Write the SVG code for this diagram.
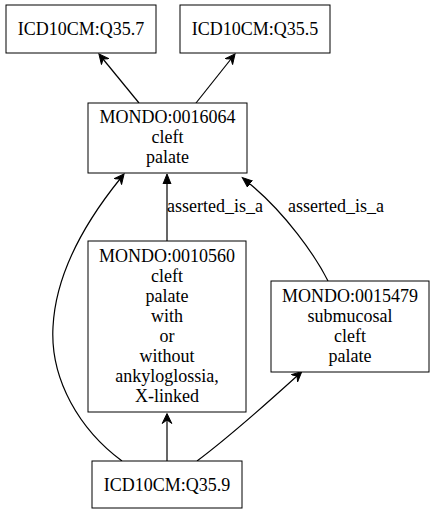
<svg xmlns="http://www.w3.org/2000/svg" width="435" height="515" viewBox="0 0 435 515">
<style>
.box{fill:#fff;stroke:#000;stroke-width:1}
text{font-family:'Liberation Serif','DejaVu Serif',serif;font-size:18px;fill:#000}
.t{text-anchor:middle}
.e{fill:none;stroke:#000;stroke-width:1.2}
</style>
<defs>
<marker id="vee" markerUnits="userSpaceOnUse" markerWidth="12" markerHeight="12" viewBox="0 -6 12 12" refX="3.5" refY="0" orient="auto">
<path d="M0,-4.8 L10,0 L0,4.8 L3.5,0 Z" fill="#000" stroke="#000" stroke-width="1"/>
</marker>
<marker id="tri" markerUnits="userSpaceOnUse" markerWidth="12" markerHeight="12" viewBox="0 -6 12 12" refX="0" refY="0" orient="auto">
<path d="M0,-4 L10,0 L0,4 Z" fill="#000" stroke="#000" stroke-width="1"/>
</marker>
</defs>
<g id="connectors">
<path class="e" d="M139,103 L103,59" marker-end="url(#vee)"/>
<path class="e" d="M196,103 L231,59" marker-end="url(#vee)"/>
<path class="e" d="M167,241 L167,184" marker-end="url(#tri)"/>
<path class="e" d="M328,281 C315,255 285,213 250,184" marker-end="url(#tri)"/>
<path class="e" d="M122,461 C80,430 50,380 53,327 C56,265 95,210 120,179" marker-end="url(#vee)"/>
<path class="e" d="M167,461 L167,420" marker-end="url(#vee)"/>
<path class="e" d="M197,461 C225,440 265,405 297,376" marker-end="url(#vee)"/>
<text x="167" y="212" font-family="Liberation Serif">asserted_is_a</text>
<text x="288" y="212" font-family="Liberation Serif">asserted_is_a</text>
</g>
<g id="n_q357">
<rect class="box" x="6" y="5" width="150" height="48"/>
<text class="t" x="81" y="35">ICD10CM:Q35.7</text>
</g>
<g id="n_q355">
<rect class="box" x="180" y="5" width="150" height="48"/>
<text class="t" x="255" y="35">ICD10CM:Q35.5</text>
</g>
<g id="n_0016064">
<rect class="box" x="88" y="103" width="159" height="70"/>
<text class="t" x="167.5" y="123">MONDO:0016064</text>
<text class="t" x="167.5" y="143">cleft</text>
<text class="t" x="167.5" y="163">palate</text>
</g>
<g id="n_0010560">
<rect class="box" x="88" y="241" width="158" height="171"/>
<text class="t" x="167" y="262">MONDO:0010560</text>
<text class="t" x="167" y="282">cleft</text>
<text class="t" x="167" y="302">palate</text>
<text class="t" x="167" y="322">with</text>
<text class="t" x="167" y="342">or</text>
<text class="t" x="167" y="362">without</text>
<text class="t" x="167" y="382">ankyloglossia,</text>
<text class="t" x="167" y="402">X-linked</text>
</g>
<g id="n_0015479">
<rect class="box" x="271" y="281" width="158" height="91"/>
<text class="t" x="350" y="302">MONDO:0015479</text>
<text class="t" x="350" y="322">submucosal</text>
<text class="t" x="350" y="342">cleft</text>
<text class="t" x="350" y="362">palate</text>
</g>
<g id="n_q359">
<rect class="box" x="92" y="461" width="150" height="47"/>
<text class="t" x="167" y="491">ICD10CM:Q35.9</text>
</g>
</svg>
